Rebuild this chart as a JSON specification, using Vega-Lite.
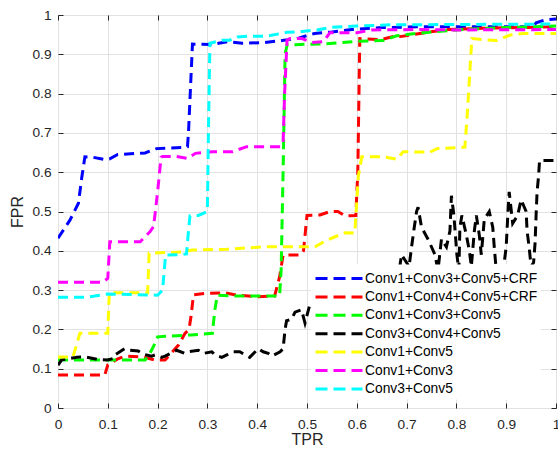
{
  "$schema": "https://vega.github.io/schema/vega-lite/v6.json",
  "autosize": {"type": "none"},
  "padding": {"left": 58, "top": 15, "right": 2, "bottom": 48},
  "width": 498,
  "height": 393,
  "background": "white",
  "config": {
    "view": {"stroke": "#262626", "strokeWidth": 1},
    "font": "Liberation Sans"
  },
  "data": {"values": [
    {"s":"Conv1+Conv3+Conv5+CRF","x":0,"y":0.432},
    {"s":"Conv1+Conv3+Conv5+CRF","x":0.024,"y":0.478},
    {"s":"Conv1+Conv3+Conv5+CRF","x":0.041,"y":0.521},
    {"s":"Conv1+Conv3+Conv5+CRF","x":0.048,"y":0.589},
    {"s":"Conv1+Conv3+Conv5+CRF","x":0.054,"y":0.639},
    {"s":"Conv1+Conv3+Conv5+CRF","x":0.07,"y":0.638},
    {"s":"Conv1+Conv3+Conv5+CRF","x":0.094,"y":0.632},
    {"s":"Conv1+Conv3+Conv5+CRF","x":0.104,"y":0.634},
    {"s":"Conv1+Conv3+Conv5+CRF","x":0.12,"y":0.645},
    {"s":"Conv1+Conv3+Conv5+CRF","x":0.175,"y":0.649},
    {"s":"Conv1+Conv3+Conv5+CRF","x":0.198,"y":0.66},
    {"s":"Conv1+Conv3+Conv5+CRF","x":0.248,"y":0.663},
    {"s":"Conv1+Conv3+Conv5+CRF","x":0.26,"y":0.665},
    {"s":"Conv1+Conv3+Conv5+CRF","x":0.262,"y":0.7},
    {"s":"Conv1+Conv3+Conv5+CRF","x":0.27,"y":0.926},
    {"s":"Conv1+Conv3+Conv5+CRF","x":0.31,"y":0.925},
    {"s":"Conv1+Conv3+Conv5+CRF","x":0.34,"y":0.932},
    {"s":"Conv1+Conv3+Conv5+CRF","x":0.37,"y":0.928},
    {"s":"Conv1+Conv3+Conv5+CRF","x":0.415,"y":0.93},
    {"s":"Conv1+Conv3+Conv5+CRF","x":0.45,"y":0.935},
    {"s":"Conv1+Conv3+Conv5+CRF","x":0.48,"y":0.94},
    {"s":"Conv1+Conv3+Conv5+CRF","x":0.515,"y":0.953},
    {"s":"Conv1+Conv3+Conv5+CRF","x":0.55,"y":0.957},
    {"s":"Conv1+Conv3+Conv5+CRF","x":0.59,"y":0.963},
    {"s":"Conv1+Conv3+Conv5+CRF","x":0.65,"y":0.968},
    {"s":"Conv1+Conv3+Conv5+CRF","x":0.73,"y":0.97},
    {"s":"Conv1+Conv3+Conv5+CRF","x":0.954,"y":0.97},
    {"s":"Conv1+Conv3+Conv5+CRF","x":0.96,"y":0.98},
    {"s":"Conv1+Conv3+Conv5+CRF","x":0.98,"y":0.988},
    {"s":"Conv1+Conv3+Conv5+CRF","x":1,"y":0.99},

    {"s":"Conv1+Conv4+Conv5+CRF","x":0,"y":0.084},
    {"s":"Conv1+Conv4+Conv5+CRF","x":0.094,"y":0.084},
    {"s":"Conv1+Conv4+Conv5+CRF","x":0.1,"y":0.11},
    {"s":"Conv1+Conv4+Conv5+CRF","x":0.12,"y":0.125},
    {"s":"Conv1+Conv4+Conv5+CRF","x":0.135,"y":0.132},
    {"s":"Conv1+Conv4+Conv5+CRF","x":0.17,"y":0.13},
    {"s":"Conv1+Conv4+Conv5+CRF","x":0.195,"y":0.122},
    {"s":"Conv1+Conv4+Conv5+CRF","x":0.215,"y":0.122},
    {"s":"Conv1+Conv4+Conv5+CRF","x":0.242,"y":0.16},
    {"s":"Conv1+Conv4+Conv5+CRF","x":0.255,"y":0.19},
    {"s":"Conv1+Conv4+Conv5+CRF","x":0.263,"y":0.2},
    {"s":"Conv1+Conv4+Conv5+CRF","x":0.267,"y":0.232},
    {"s":"Conv1+Conv4+Conv5+CRF","x":0.272,"y":0.288},
    {"s":"Conv1+Conv4+Conv5+CRF","x":0.3,"y":0.292},
    {"s":"Conv1+Conv4+Conv5+CRF","x":0.335,"y":0.293},
    {"s":"Conv1+Conv4+Conv5+CRF","x":0.36,"y":0.287},
    {"s":"Conv1+Conv4+Conv5+CRF","x":0.4,"y":0.283},
    {"s":"Conv1+Conv4+Conv5+CRF","x":0.435,"y":0.285},
    {"s":"Conv1+Conv4+Conv5+CRF","x":0.445,"y":0.334},
    {"s":"Conv1+Conv4+Conv5+CRF","x":0.452,"y":0.389},
    {"s":"Conv1+Conv4+Conv5+CRF","x":0.486,"y":0.389},
    {"s":"Conv1+Conv4+Conv5+CRF","x":0.493,"y":0.4},
    {"s":"Conv1+Conv4+Conv5+CRF","x":0.5,"y":0.49},
    {"s":"Conv1+Conv4+Conv5+CRF","x":0.526,"y":0.491},
    {"s":"Conv1+Conv4+Conv5+CRF","x":0.546,"y":0.5},
    {"s":"Conv1+Conv4+Conv5+CRF","x":0.562,"y":0.5},
    {"s":"Conv1+Conv4+Conv5+CRF","x":0.576,"y":0.489},
    {"s":"Conv1+Conv4+Conv5+CRF","x":0.598,"y":0.49},
    {"s":"Conv1+Conv4+Conv5+CRF","x":0.602,"y":0.6},
    {"s":"Conv1+Conv4+Conv5+CRF","x":0.606,"y":0.94},
    {"s":"Conv1+Conv4+Conv5+CRF","x":0.647,"y":0.937},
    {"s":"Conv1+Conv4+Conv5+CRF","x":0.673,"y":0.945},
    {"s":"Conv1+Conv4+Conv5+CRF","x":0.687,"y":0.945},
    {"s":"Conv1+Conv4+Conv5+CRF","x":0.747,"y":0.957},
    {"s":"Conv1+Conv4+Conv5+CRF","x":0.783,"y":0.963},
    {"s":"Conv1+Conv4+Conv5+CRF","x":0.85,"y":0.966},
    {"s":"Conv1+Conv4+Conv5+CRF","x":1,"y":0.97},

    {"s":"Conv1+Conv3+Conv5","x":0,"y":0.122},
    {"s":"Conv1+Conv3+Conv5","x":0.175,"y":0.122},
    {"s":"Conv1+Conv3+Conv5","x":0.185,"y":0.14},
    {"s":"Conv1+Conv3+Conv5","x":0.195,"y":0.165},
    {"s":"Conv1+Conv3+Conv5","x":0.2,"y":0.181},
    {"s":"Conv1+Conv3+Conv5","x":0.267,"y":0.186},
    {"s":"Conv1+Conv3+Conv5","x":0.31,"y":0.19},
    {"s":"Conv1+Conv3+Conv5","x":0.315,"y":0.25},
    {"s":"Conv1+Conv3+Conv5","x":0.32,"y":0.287},
    {"s":"Conv1+Conv3+Conv5","x":0.35,"y":0.285},
    {"s":"Conv1+Conv3+Conv5","x":0.445,"y":0.285},
    {"s":"Conv1+Conv3+Conv5","x":0.448,"y":0.35},
    {"s":"Conv1+Conv3+Conv5","x":0.452,"y":0.6},
    {"s":"Conv1+Conv3+Conv5","x":0.456,"y":0.9},
    {"s":"Conv1+Conv3+Conv5","x":0.46,"y":0.924},
    {"s":"Conv1+Conv3+Conv5","x":0.486,"y":0.925},
    {"s":"Conv1+Conv3+Conv5","x":0.54,"y":0.927},
    {"s":"Conv1+Conv3+Conv5","x":0.57,"y":0.93},
    {"s":"Conv1+Conv3+Conv5","x":0.6,"y":0.933},
    {"s":"Conv1+Conv3+Conv5","x":0.653,"y":0.935},
    {"s":"Conv1+Conv3+Conv5","x":0.68,"y":0.947},
    {"s":"Conv1+Conv3+Conv5","x":0.713,"y":0.952},
    {"s":"Conv1+Conv3+Conv5","x":0.76,"y":0.958},
    {"s":"Conv1+Conv3+Conv5","x":0.8,"y":0.962},
    {"s":"Conv1+Conv3+Conv5","x":0.9,"y":0.968},
    {"s":"Conv1+Conv3+Conv5","x":1,"y":0.972},

    {"s":"Conv3+Conv4+Conv5","x":0,"y":0.109},
    {"s":"Conv3+Conv4+Conv5","x":0.007,"y":0.122},
    {"s":"Conv3+Conv4+Conv5","x":0.038,"y":0.129},
    {"s":"Conv3+Conv4+Conv5","x":0.054,"y":0.13},
    {"s":"Conv3+Conv4+Conv5","x":0.078,"y":0.124},
    {"s":"Conv3+Conv4+Conv5","x":0.1,"y":0.122},
    {"s":"Conv3+Conv4+Conv5","x":0.111,"y":0.126},
    {"s":"Conv3+Conv4+Conv5","x":0.114,"y":0.135},
    {"s":"Conv3+Conv4+Conv5","x":0.134,"y":0.151},
    {"s":"Conv3+Conv4+Conv5","x":0.144,"y":0.147},
    {"s":"Conv3+Conv4+Conv5","x":0.161,"y":0.145},
    {"s":"Conv3+Conv4+Conv5","x":0.171,"y":0.137},
    {"s":"Conv3+Conv4+Conv5","x":0.188,"y":0.132},
    {"s":"Conv3+Conv4+Conv5","x":0.195,"y":0.135},
    {"s":"Conv3+Conv4+Conv5","x":0.208,"y":0.129},
    {"s":"Conv3+Conv4+Conv5","x":0.215,"y":0.132},
    {"s":"Conv3+Conv4+Conv5","x":0.232,"y":0.143},
    {"s":"Conv3+Conv4+Conv5","x":0.238,"y":0.147},
    {"s":"Conv3+Conv4+Conv5","x":0.255,"y":0.139},
    {"s":"Conv3+Conv4+Conv5","x":0.262,"y":0.143},
    {"s":"Conv3+Conv4+Conv5","x":0.282,"y":0.147},
    {"s":"Conv3+Conv4+Conv5","x":0.292,"y":0.139},
    {"s":"Conv3+Conv4+Conv5","x":0.309,"y":0.143},
    {"s":"Conv3+Conv4+Conv5","x":0.315,"y":0.135},
    {"s":"Conv3+Conv4+Conv5","x":0.329,"y":0.129},
    {"s":"Conv3+Conv4+Conv5","x":0.339,"y":0.135},
    {"s":"Conv3+Conv4+Conv5","x":0.352,"y":0.143},
    {"s":"Conv3+Conv4+Conv5","x":0.365,"y":0.143},
    {"s":"Conv3+Conv4+Conv5","x":0.385,"y":0.129},
    {"s":"Conv3+Conv4+Conv5","x":0.402,"y":0.151},
    {"s":"Conv3+Conv4+Conv5","x":0.412,"y":0.143},
    {"s":"Conv3+Conv4+Conv5","x":0.422,"y":0.139},
    {"s":"Conv3+Conv4+Conv5","x":0.429,"y":0.132},
    {"s":"Conv3+Conv4+Conv5","x":0.446,"y":0.143},
    {"s":"Conv3+Conv4+Conv5","x":0.452,"y":0.151},
    {"s":"Conv3+Conv4+Conv5","x":0.456,"y":0.2},
    {"s":"Conv3+Conv4+Conv5","x":0.459,"y":0.222},
    {"s":"Conv3+Conv4+Conv5","x":0.469,"y":0.226},
    {"s":"Conv3+Conv4+Conv5","x":0.476,"y":0.244},
    {"s":"Conv3+Conv4+Conv5","x":0.489,"y":0.25},
    {"s":"Conv3+Conv4+Conv5","x":0.496,"y":0.216},
    {"s":"Conv3+Conv4+Conv5","x":0.505,"y":0.26},
    {"s":"Conv3+Conv4+Conv5","x":0.55,"y":0.3},
    {"s":"Conv3+Conv4+Conv5","x":0.6,"y":0.3},
    {"s":"Conv3+Conv4+Conv5","x":0.65,"y":0.33},
    {"s":"Conv3+Conv4+Conv5","x":0.685,"y":0.35},
    {"s":"Conv3+Conv4+Conv5","x":0.69,"y":0.39},
    {"s":"Conv3+Conv4+Conv5","x":0.705,"y":0.36},
    {"s":"Conv3+Conv4+Conv5","x":0.71,"y":0.41},
    {"s":"Conv3+Conv4+Conv5","x":0.715,"y":0.456},
    {"s":"Conv3+Conv4+Conv5","x":0.72,"y":0.5},
    {"s":"Conv3+Conv4+Conv5","x":0.723,"y":0.511},
    {"s":"Conv3+Conv4+Conv5","x":0.73,"y":0.46},
    {"s":"Conv3+Conv4+Conv5","x":0.744,"y":0.427},
    {"s":"Conv3+Conv4+Conv5","x":0.757,"y":0.39},
    {"s":"Conv3+Conv4+Conv5","x":0.763,"y":0.35},
    {"s":"Conv3+Conv4+Conv5","x":0.77,"y":0.43},
    {"s":"Conv3+Conv4+Conv5","x":0.78,"y":0.41},
    {"s":"Conv3+Conv4+Conv5","x":0.787,"y":0.45},
    {"s":"Conv3+Conv4+Conv5","x":0.79,"y":0.54},
    {"s":"Conv3+Conv4+Conv5","x":0.795,"y":0.49},
    {"s":"Conv3+Conv4+Conv5","x":0.798,"y":0.44},
    {"s":"Conv3+Conv4+Conv5","x":0.801,"y":0.39},
    {"s":"Conv3+Conv4+Conv5","x":0.805,"y":0.35},
    {"s":"Conv3+Conv4+Conv5","x":0.807,"y":0.46},
    {"s":"Conv3+Conv4+Conv5","x":0.811,"y":0.49},
    {"s":"Conv3+Conv4+Conv5","x":0.82,"y":0.44},
    {"s":"Conv3+Conv4+Conv5","x":0.826,"y":0.4},
    {"s":"Conv3+Conv4+Conv5","x":0.83,"y":0.36},
    {"s":"Conv3+Conv4+Conv5","x":0.836,"y":0.45},
    {"s":"Conv3+Conv4+Conv5","x":0.84,"y":0.49},
    {"s":"Conv3+Conv4+Conv5","x":0.846,"y":0.44},
    {"s":"Conv3+Conv4+Conv5","x":0.85,"y":0.39},
    {"s":"Conv3+Conv4+Conv5","x":0.856,"y":0.48},
    {"s":"Conv3+Conv4+Conv5","x":0.866,"y":0.5},
    {"s":"Conv3+Conv4+Conv5","x":0.873,"y":0.46},
    {"s":"Conv3+Conv4+Conv5","x":0.876,"y":0.41},
    {"s":"Conv3+Conv4+Conv5","x":0.88,"y":0.35},
    {"s":"Conv3+Conv4+Conv5","x":0.895,"y":0.36},
    {"s":"Conv3+Conv4+Conv5","x":0.9,"y":0.41},
    {"s":"Conv3+Conv4+Conv5","x":0.902,"y":0.46},
    {"s":"Conv3+Conv4+Conv5","x":0.904,"y":0.51},
    {"s":"Conv3+Conv4+Conv5","x":0.906,"y":0.55},
    {"s":"Conv3+Conv4+Conv5","x":0.913,"y":0.47},
    {"s":"Conv3+Conv4+Conv5","x":0.923,"y":0.49},
    {"s":"Conv3+Conv4+Conv5","x":0.93,"y":0.53},
    {"s":"Conv3+Conv4+Conv5","x":0.94,"y":0.5},
    {"s":"Conv3+Conv4+Conv5","x":0.942,"y":0.45},
    {"s":"Conv3+Conv4+Conv5","x":0.946,"y":0.41},
    {"s":"Conv3+Conv4+Conv5","x":0.95,"y":0.36},
    {"s":"Conv3+Conv4+Conv5","x":0.955,"y":0.37},
    {"s":"Conv3+Conv4+Conv5","x":0.958,"y":0.42},
    {"s":"Conv3+Conv4+Conv5","x":0.96,"y":0.49},
    {"s":"Conv3+Conv4+Conv5","x":0.962,"y":0.55},
    {"s":"Conv3+Conv4+Conv5","x":0.965,"y":0.59},
    {"s":"Conv3+Conv4+Conv5","x":0.967,"y":0.63},
    {"s":"Conv3+Conv4+Conv5","x":0.98,"y":0.63},
    {"s":"Conv3+Conv4+Conv5","x":1,"y":0.63},

    {"s":"Conv1+Conv5","x":0,"y":0.13},
    {"s":"Conv1+Conv5","x":0.03,"y":0.13},
    {"s":"Conv1+Conv5","x":0.044,"y":0.19},
    {"s":"Conv1+Conv5","x":0.1,"y":0.19},
    {"s":"Conv1+Conv5","x":0.103,"y":0.293},
    {"s":"Conv1+Conv5","x":0.18,"y":0.293},
    {"s":"Conv1+Conv5","x":0.183,"y":0.394},
    {"s":"Conv1+Conv5","x":0.25,"y":0.397},
    {"s":"Conv1+Conv5","x":0.27,"y":0.402},
    {"s":"Conv1+Conv5","x":0.34,"y":0.404},
    {"s":"Conv1+Conv5","x":0.41,"y":0.41},
    {"s":"Conv1+Conv5","x":0.445,"y":0.41},
    {"s":"Conv1+Conv5","x":0.516,"y":0.41},
    {"s":"Conv1+Conv5","x":0.54,"y":0.427},
    {"s":"Conv1+Conv5","x":0.576,"y":0.446},
    {"s":"Conv1+Conv5","x":0.596,"y":0.445},
    {"s":"Conv1+Conv5","x":0.603,"y":0.59},
    {"s":"Conv1+Conv5","x":0.61,"y":0.639},
    {"s":"Conv1+Conv5","x":0.653,"y":0.639},
    {"s":"Conv1+Conv5","x":0.68,"y":0.633},
    {"s":"Conv1+Conv5","x":0.693,"y":0.652},
    {"s":"Conv1+Conv5","x":0.747,"y":0.651},
    {"s":"Conv1+Conv5","x":0.761,"y":0.66},
    {"s":"Conv1+Conv5","x":0.8,"y":0.662},
    {"s":"Conv1+Conv5","x":0.817,"y":0.664},
    {"s":"Conv1+Conv5","x":0.822,"y":0.75},
    {"s":"Conv1+Conv5","x":0.831,"y":0.94},
    {"s":"Conv1+Conv5","x":0.847,"y":0.938},
    {"s":"Conv1+Conv5","x":0.88,"y":0.935},
    {"s":"Conv1+Conv5","x":0.908,"y":0.949},
    {"s":"Conv1+Conv5","x":0.934,"y":0.953},
    {"s":"Conv1+Conv5","x":1,"y":0.953},

    {"s":"Conv1+Conv3","x":0,"y":0.32},
    {"s":"Conv1+Conv3","x":0.09,"y":0.32},
    {"s":"Conv1+Conv3","x":0.1,"y":0.33},
    {"s":"Conv1+Conv3","x":0.104,"y":0.423},
    {"s":"Conv1+Conv3","x":0.165,"y":0.423},
    {"s":"Conv1+Conv3","x":0.185,"y":0.449},
    {"s":"Conv1+Conv3","x":0.192,"y":0.462},
    {"s":"Conv1+Conv3","x":0.2,"y":0.55},
    {"s":"Conv1+Conv3","x":0.207,"y":0.638},
    {"s":"Conv1+Conv3","x":0.21,"y":0.64},
    {"s":"Conv1+Conv3","x":0.237,"y":0.64},
    {"s":"Conv1+Conv3","x":0.26,"y":0.635},
    {"s":"Conv1+Conv3","x":0.276,"y":0.648},
    {"s":"Conv1+Conv3","x":0.31,"y":0.652},
    {"s":"Conv1+Conv3","x":0.35,"y":0.652},
    {"s":"Conv1+Conv3","x":0.379,"y":0.665},
    {"s":"Conv1+Conv3","x":0.446,"y":0.665},
    {"s":"Conv1+Conv3","x":0.452,"y":0.673},
    {"s":"Conv1+Conv3","x":0.455,"y":0.8},
    {"s":"Conv1+Conv3","x":0.46,"y":0.936},
    {"s":"Conv1+Conv3","x":0.466,"y":0.94},
    {"s":"Conv1+Conv3","x":0.49,"y":0.94},
    {"s":"Conv1+Conv3","x":0.51,"y":0.93},
    {"s":"Conv1+Conv3","x":0.533,"y":0.932},
    {"s":"Conv1+Conv3","x":0.546,"y":0.955},
    {"s":"Conv1+Conv3","x":0.6,"y":0.955},
    {"s":"Conv1+Conv3","x":0.63,"y":0.962},
    {"s":"Conv1+Conv3","x":0.72,"y":0.963},
    {"s":"Conv1+Conv3","x":0.8,"y":0.962},
    {"s":"Conv1+Conv3","x":1,"y":0.963},

    {"s":"Conv3+Conv5","x":0,"y":0.282},
    {"s":"Conv3+Conv5","x":0.06,"y":0.282},
    {"s":"Conv3+Conv5","x":0.088,"y":0.288},
    {"s":"Conv3+Conv5","x":0.1,"y":0.29},
    {"s":"Conv3+Conv5","x":0.2,"y":0.287},
    {"s":"Conv3+Conv5","x":0.21,"y":0.3},
    {"s":"Conv3+Conv5","x":0.216,"y":0.389},
    {"s":"Conv3+Conv5","x":0.24,"y":0.39},
    {"s":"Conv3+Conv5","x":0.258,"y":0.392},
    {"s":"Conv3+Conv5","x":0.262,"y":0.45},
    {"s":"Conv3+Conv5","x":0.265,"y":0.489},
    {"s":"Conv3+Conv5","x":0.282,"y":0.49},
    {"s":"Conv3+Conv5","x":0.3,"y":0.5},
    {"s":"Conv3+Conv5","x":0.302,"y":0.7},
    {"s":"Conv3+Conv5","x":0.305,"y":0.928},
    {"s":"Conv3+Conv5","x":0.33,"y":0.936},
    {"s":"Conv3+Conv5","x":0.345,"y":0.936},
    {"s":"Conv3+Conv5","x":0.36,"y":0.944},
    {"s":"Conv3+Conv5","x":0.38,"y":0.946},
    {"s":"Conv3+Conv5","x":0.42,"y":0.946},
    {"s":"Conv3+Conv5","x":0.435,"y":0.95},
    {"s":"Conv3+Conv5","x":0.46,"y":0.956},
    {"s":"Conv3+Conv5","x":0.49,"y":0.958},
    {"s":"Conv3+Conv5","x":0.52,"y":0.962},
    {"s":"Conv3+Conv5","x":0.55,"y":0.969},
    {"s":"Conv3+Conv5","x":0.6,"y":0.972},
    {"s":"Conv3+Conv5","x":0.67,"y":0.975},
    {"s":"Conv3+Conv5","x":1,"y":0.977}
  ]},
  "layer": [
    {
      "mark": {"type": "line", "strokeWidth": 3, "strokeDash": [10, 6], "clip": true},
      "encoding": {
        "x": {"field": "x", "type": "quantitative", "scale": {"domain": [0, 1], "nice": false, "zero": false},
          "axis": {"orient": "bottom", "values": [0,0.1,0.2,0.3,0.4,0.5,0.6,0.7,0.8,0.9,1], "format": "~g",
            "title": "TPR", "titleFontSize": 16, "titleFontWeight": "normal", "titleColor": "#262626",
            "titleX": 249, "titleY": 36, "titleBaseline": "alphabetic", "titleAlign": "center",
            "labelFontSize": 13.7, "labelColor": "#262626", "labelPadding": 14, "tickSize": -5, "tickColor": "#262626",
            "domain": false, "grid": true, "gridColor": "#e2e2e2", "labelFlush": false}},
        "y": {"field": "y", "type": "quantitative", "scale": {"domain": [0, 1], "nice": false, "zero": false},
          "axis": {"orient": "left", "values": [0,0.1,0.2,0.3,0.4,0.5,0.6,0.7,0.8,0.9,1], "format": "~g",
            "title": "FPR", "titleFontSize": 16, "titleFontWeight": "normal", "titleColor": "#262626",
            "titleX": -36, "titleY": 196.5, "titleBaseline": "alphabetic", "titleAlign": "center", "titleAngle": -90,
            "labelFontSize": 13.7, "labelColor": "#262626", "labelPadding": 12, "tickSize": -5, "tickColor": "#262626",
            "domain": false, "grid": true, "gridColor": "#e2e2e2", "labelFlush": false}},
        "color": {"field": "s", "type": "nominal",
          "scale": {"domain": ["Conv1+Conv3+Conv5+CRF","Conv1+Conv4+Conv5+CRF","Conv1+Conv3+Conv5","Conv3+Conv4+Conv5","Conv1+Conv5","Conv1+Conv3","Conv3+Conv5"],
                    "range": ["#0000ff","#ff0000","#00ff00","#000000","#ffff00","#ff00ff","#00ffff"]},
          "legend": {"orient": "none", "legendX": 253, "legendY": 249.5, "title": null, "fillColor": "white",
            "padding": 3, "symbolType": "M-1,0H3.947", "symbolSize": 361, "symbolStrokeWidth": 3, "symbolDash": [12, 6],
            "labelFontSize": 13.8, "labelFont": "Liberation Sans", "labelColor": "black", "rowPadding": 0.4,
            "labelOffset": 29, "labelLimit": 300}}
      }
    },
    {
      "data": {"values": [{"x": 0, "y": 0}]},
      "mark": {"type": "point", "opacity": 0},
      "encoding": {
        "x": {"field": "x", "type": "quantitative",
          "axis": {"orient": "top", "values": [0,0.1,0.2,0.3,0.4,0.5,0.6,0.7,0.8,0.9,1], "labels": false, "title": null,
            "tickSize": -5, "tickColor": "#262626", "domain": false, "grid": false}},
        "y": {"field": "y", "type": "quantitative",
          "axis": {"orient": "right", "values": [0,0.1,0.2,0.3,0.4,0.5,0.6,0.7,0.8,0.9,1], "labels": false, "title": null,
            "tickSize": -5, "tickColor": "#262626", "domain": false, "grid": false}}
      }
    }
  ],
  "resolve": {"axis": {"x": "independent", "y": "independent"}}
}
